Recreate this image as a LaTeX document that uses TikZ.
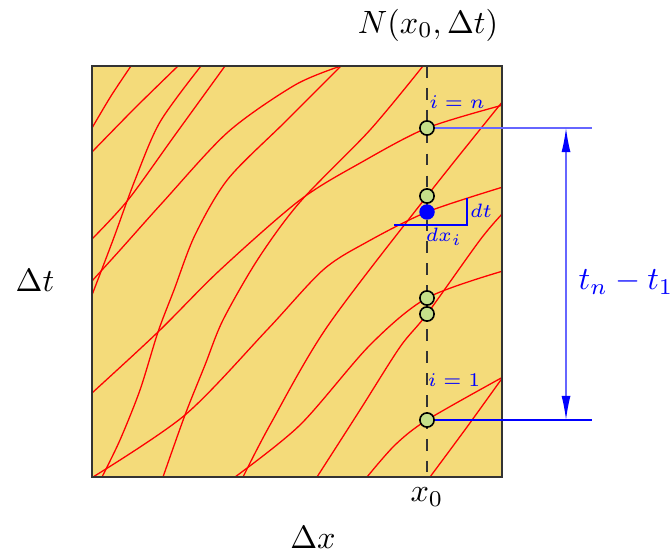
\documentclass[tikz,border=0pt]{standalone}
\usetikzlibrary{arrows.meta}
\definecolor{boxfill}{RGB}{244,219,122}
\definecolor{ptgreen}{RGB}{197,223,138}
\begin{document}
\begin{tikzpicture}[x=0.31pt,y=-0.31pt,
  curve/.style={red, line width=0.4pt},
  ptc/.style={circle, draw=black, fill=ptgreen, line width=0.5pt, inner sep=0pt, minimum size=4.4pt},
  bdot/.style={circle, fill=blue, inner sep=0pt, minimum size=4.8pt},
  lbl/.style={blue, font=\fontsize{6.5}{8}\selectfont, inner sep=0pt},
  big/.style={font=\fontsize{10}{12}\selectfont, inner sep=0pt},
  bline/.style={blue, line width=0.4pt},
  lline/.style={blue!60, line width=0.4pt}]
\useasboundingbox (0,0) rectangle (670,550);
\fill[boxfill] (92,66) rectangle (502,477);
\begin{scope}
\clip (92,66) rectangle (502,477);
% A
\draw[curve] plot[smooth] coordinates {(131,66) (111,96) (92,128)};
% B
\draw[curve] plot[smooth] coordinates {(178,66) (135,108) (92,152)};
% C
\draw[curve] plot[smooth] coordinates {(201,66) (160,122) (135,180) (113,240) (92,295)};
% D
\draw[curve] plot[smooth] coordinates {(225,66) (175,135) (128,200) (92,239)};
% E
\draw[curve] plot[smooth] coordinates {(92,281) (121,249) (163,202) (228,132) (295,85) (341,66)};
% F
\draw[curve] plot[smooth] coordinates {(341,66) (285,122) (228,179) (195,235) (174,290) (158,332) (140,390) (120,440) (102,477)};
% G
\draw[curve] plot[smooth] coordinates {(92,393) (158,332) (220,270) (300,200) (362,162) (427,128) (503,105)};
% H
\draw[curve] plot[smooth] coordinates {(163,477) (185,415) (205,365) (223,320) (258,259) (300,202) (370,130) (423,66)};
% L
\draw[curve] plot[smooth] coordinates {(93,477) (185,415) (267,330) (323,270) (367,242) (427,212) (503,187)};
% M
\draw[curve] plot[smooth] coordinates {(243,477) (270,425) (327,327) (427,196) (503,101)};
% N
\draw[curve] plot[smooth] coordinates {(235,477) (300,425) (370,345) (427,298) (503,271)};
% O
\draw[curve] plot[smooth] coordinates {(317,477) (360,410) (400,347) (427,314) (480,240) (503,213)};
% P
\draw[curve] plot[smooth] coordinates {(367,477) (395,445) (427,420) (503,377)};
% Q
\draw[curve] plot[smooth] coordinates {(430,477) (467,427) (503,377)};
\end{scope}
\draw[black!80, line width=0.5pt] (92,66) rectangle (502,477);
\draw[black!80, line width=0.5pt, dash pattern=on 3.6pt off 3.2pt] (427,66) -- (427,477);
% points
\node[ptc] (pn) at (427,128) {};
\node[ptc] (pa) at (427,196) {};
\node[bdot] (pd) at (427,212) {};
\node[ptc] (pb) at (427,298) {};
\node[ptc] (pc) at (427,314) {};
\node[ptc] (p1) at (427,420) {};
% dt / dx bracket
\coordinate (bl) at (394,225);
\coordinate (br) at (467,225);
\coordinate (bt) at (467,198);
\draw[bline] (bl) -- (br) -- (bt);
% dimension lines
\coordinate (en) at (592,128);
\coordinate (e1) at (592,420);
\coordinate (an) at (566,128);
\coordinate (a1) at (566,420);
\draw[lline] (pn.east) -- (en);
\draw[bline] (p1.east) -- (e1);
\draw[lline, {Latex[length=7.5pt,width=2.8pt,color=blue]}-{Latex[length=7.5pt,width=2.8pt,color=blue]}] (an) -- (a1);
% labels
\node[lbl] (ln) at (457,102) {$i=n$};
\node[lbl] (l1) at (454,380) {$i=1$};
\node[lbl] (ldt) at (481,211) {$dt$};
\node[lbl] (ldx) at (444,237) {$dx_i$};
\node[big, blue] (ltt) at (626,282) {$t_n-t_1$};
\node[big] (ldt2) at (35,280) {$\Delta t$};
\node[big] (ldx2) at (313,537) {$\Delta x$};
\node[big] (lx0) at (427,497) {$x_0$};
\node[big] (lN) at (428,25) {$N(x_0,\Delta t)$};
\end{tikzpicture}
\end{document}
